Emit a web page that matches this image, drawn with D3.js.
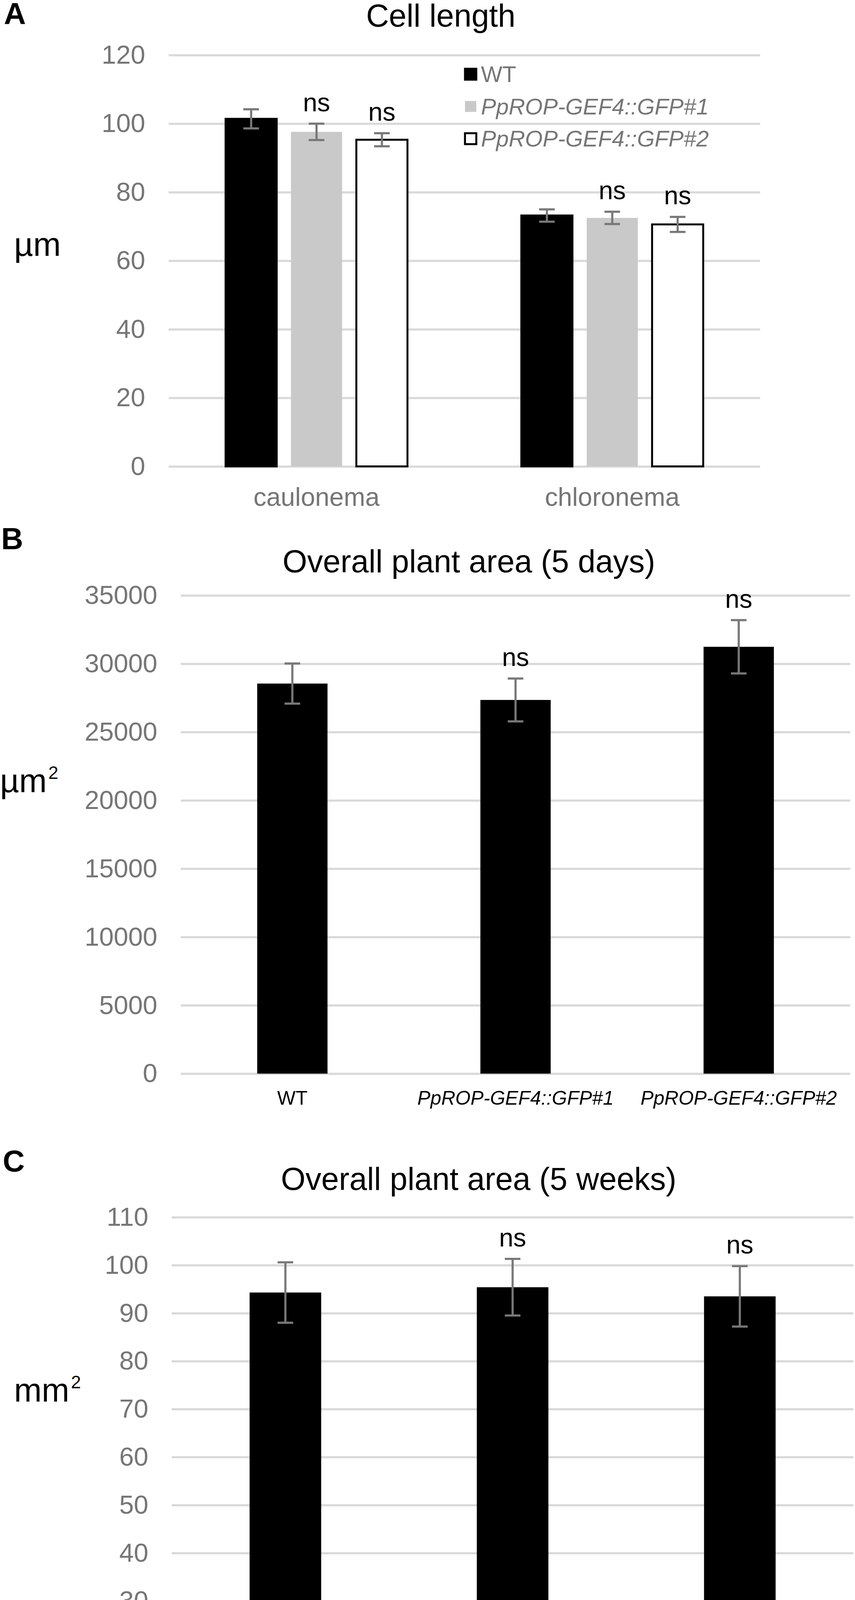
<!DOCTYPE html>
<html>
<head>
<meta charset="utf-8">
<script src="https://cdn.jsdelivr.net/npm/d3@7"></script>
<style>
body { margin: 0; background: #fff; }
svg { display: block; background: #fff; }
svg text { font-family: "Liberation Sans", Arial, Helvetica, sans-serif; }
.grid line { stroke: #d9d9d9; stroke-width: 5.5; }
.grid path, .axis path, .axis line { display: none; }
.y.axis text { fill: #767676; font-size: 67px; }
.x.axis.gray text { fill: #767676; font-size: 66px; }
.x.axis.black text { fill: #000; font-size: 50px; }
.bar.s0 { fill: #000; stroke: #000; stroke-width: 5; }
.bar.s1 { fill: #c9c9c9; stroke: none; }
.bar.s2 { fill: #fff; stroke: #000; stroke-width: 5; }
.bar.solid { fill: #000; }
.err { stroke: #787878; stroke-width: 5.5; fill: none; }
.ns { font-size: 66px; fill: #000; text-anchor: middle; }
.title { font-size: 81px; fill: #000; text-anchor: middle; }
.panel { font-size: 78px; font-weight: bold; fill: #000; }
.unit { font-size: 85px; fill: #000; }
.legend text { font-size: 58px; fill: #767676; }
</style>
</head>
<body>
<script>
// ---- data ----
var seriesNames = ["WT", "PpROP-GEF4::GFP#1", "PpROP-GEF4::GFP#2"];

// A: cell length (um), per cell type, per line
var cellTypes = ["caulonema", "chloronema"];
var cellLengthMean = [[101.4, 97.6, 95.3], [73.2, 72.5, 70.6]];
var cellLengthErr = [[2.8, 2.4, 1.9], [1.8, 1.8, 2.2]];
var cellLengthSig = [["", "ns", "ns"], ["", "ns", "ns"]];
var cellLengthTicks = [0, 20, 40, 60, 80, 100, 120];

// B: plant area after 5 days (um2)
var areaDaysMean = [28550, 27350, 31240];
var areaDaysErr = [1470, 1570, 1950];
var areaDaysSig = ["", "ns", "ns"];
var areaDaysTicks = [0, 5000, 10000, 15000, 20000, 25000, 30000, 35000];

// C: plant area after 5 weeks (mm2)
var areaWeeksMean = [94.3, 95.4, 93.5];
var areaWeeksErr = [6.3, 5.9, 6.3];
var areaWeeksSig = ["", "ns", "ns"];
var areaWeeksTicks = [0, 10, 20, 30, 40, 50, 60, 70, 80, 90, 100, 110];

var svg = d3.select("body").append("svg")
    .attr("width", 2190)
    .attr("height", 4553);

// gridlines + y tick labels, both from the same scale
function yAxisWithGrid(y, ticks, x0, x1) {
    svg.append("g")
        .attr("class", "grid")
        .attr("transform", "translate(" + x0 + ",0)")
        .call(d3.axisLeft(y).tickValues(ticks).tickSize(-(x1 - x0)).tickFormat(""));
    svg.append("g")
        .attr("class", "y axis")
        .attr("transform", "translate(" + x0 + ",0)")
        .call(d3.axisLeft(y).tickValues(ticks).tickSize(0).tickPadding(60).tickFormat(d3.format("d")));
}

// error bar with caps, plus the "ns" label above it
function errorBars(g, rows, y, cx) {
    g.selectAll(".err")
        .data(rows)
        .enter().append("path")
        .attr("class", "err")
        .attr("d", function(d) {
            var c = cx(d), top = y(d.value + d.err), bot = y(d.value - d.err);
            return "M" + c + "," + top + "V" + bot +
                "M" + (c - 20) + "," + top + "H" + (c + 20) +
                "M" + (c - 20) + "," + bot + "H" + (c + 20);
        });
    g.selectAll(".ns")
        .data(rows.filter(function(d) { return d.sig; }))
        .enter().append("text")
        .attr("class", "ns")
        .attr("x", cx)
        .attr("y", function(d) { return y(d.value + d.err) - 32; })
        .text(function(d) { return d.sig; });
}

function unitLabel(x, yBase, base, sup) {
    var t = svg.append("text").attr("class", "unit").attr("x", x).attr("y", yBase).text(base);
    if (sup) {
        t.append("tspan").attr("dx", 4).attr("dy", -34).style("font-size", "46px").text(sup);
    }
}

// ---------------- Panel A ----------------
var xA = d3.scaleBand()
    .domain(cellTypes)
    .range([432, 1947])
    .paddingInner(0.385)
    .paddingOuter(0.1925);
var xA1 = d3.scaleBand()
    .domain(seriesNames)
    .range([0, xA.bandwidth()])
    .paddingInner(0.218);
var yA = d3.scaleLinear().domain([0, 120]).range([1194, 141]);

svg.append("text").attr("class", "panel").attr("x", 10).attr("y", 62).text("A");
svg.append("text").attr("class", "title").attr("x", 1129).attr("y", 68).text("Cell length");
unitLabel(36, 655, "µm");

yAxisWithGrid(yA, cellLengthTicks, 432, 1947);

svg.append("g")
    .attr("class", "x axis gray")
    .attr("transform", "translate(0," + yA(0) + ")")
    .call(d3.axisBottom(xA).tickSize(0).tickPadding(54));

var groupsA = svg.selectAll(".groupA")
    .data(cellTypes)
    .enter().append("g")
    .attr("class", "groupA")
    .attr("transform", function(d) { return "translate(" + xA(d) + ",0)"; });

groupsA.each(function(cat, i) {
    var rows = seriesNames.map(function(name, j) {
        return { name: name, idx: j, value: cellLengthMean[i][j], err: cellLengthErr[i][j], sig: cellLengthSig[i][j] };
    });
    var g = d3.select(this);
    g.selectAll(".bar")
        .data(rows)
        .enter().append("rect")
        .attr("class", function(d) { return "bar s" + d.idx; })
        .attr("x", function(d) { return xA1(d.name); })
        .attr("width", xA1.bandwidth())
        .attr("y", function(d) { return yA(d.value); })
        .attr("height", function(d) { return yA(0) - yA(d.value); });
    errorBars(g, rows, yA, function(d) { return xA1(d.name) + xA1.bandwidth() / 2; });
});

// legend
var legend = svg.append("g")
    .attr("class", "legend")
    .attr("transform", "translate(1188,0)");
var legendRow = legend.selectAll(".row")
    .data(seriesNames)
    .enter().append("g")
    .attr("class", "row")
    .attr("transform", function(d, i) { return "translate(0," + (210 + i * 82.5) + ")"; });
legendRow.append("rect")
    .attr("class", function(d, i) { return "bar s" + i; })
    .attr("x", 3)
    .attr("y", -34)
    .attr("width", 29)
    .attr("height", 28);
legendRow.append("text")
    .attr("x", 44)
    .style("font-style", function(d) { return d === "WT" ? "normal" : "italic"; })
    .text(function(d) { return d; });

// ---------------- Panels B and C (one series each) ----------------
function singlePanel(o) {
    var x = d3.scaleBand()
        .domain(seriesNames)
        .range([o.x0, o.x1])
        .paddingInner(0.685)
        .paddingOuter(0.3425);
    var y = d3.scaleLinear().domain([0, o.max]).range([o.yBottom, o.yTop]);

    svg.append("text").attr("class", "panel").attr("x", o.panelX).attr("y", o.panelY).text(o.panel);
    svg.append("text").attr("class", "title").attr("x", o.titleX).attr("y", o.titleY).text(o.title);

    yAxisWithGrid(y, o.ticks, o.x0, o.x1);

    svg.append("g")
        .attr("class", "x axis black")
        .attr("transform", "translate(0," + y(0) + ")")
        .call(d3.axisBottom(x).tickSize(0).tickPadding(o.labelPad))
        .selectAll("text")
        .style("font-style", function(d) { return d === "WT" ? "normal" : "italic"; });

    var rows = seriesNames.map(function(name, j) {
        return { name: name, value: o.mean[j], err: o.err[j], sig: o.sig[j] };
    });
    var g = svg.append("g");
    g.selectAll(".bar")
        .data(rows)
        .enter().append("rect")
        .attr("class", "bar solid")
        .attr("x", function(d) { return x(d.name); })
        .attr("width", x.bandwidth())
        .attr("y", function(d) { return y(d.value); })
        .attr("height", function(d) { return y(0) - y(d.value); });
    errorBars(g, rows, y, function(d) { return x(d.name) + x.bandwidth() / 2; });
}

singlePanel({
    panel: "B", panelX: 3, panelY: 1406,
    title: "Overall plant area (5 days)", titleX: 1201, titleY: 1465,
    mean: areaDaysMean, err: areaDaysErr, sig: areaDaysSig, ticks: areaDaysTicks, max: 35000,
    x0: 463, x1: 2178, yBottom: 2748.5, yTop: 1524.3, labelPad: 44
});
unitLabel(0, 2028, "µm", "2");

singlePanel({
    panel: "C", panelX: 7, panelY: 2999,
    title: "Overall plant area (5 weeks)", titleX: 1226, titleY: 3046,
    mean: areaWeeksMean, err: areaWeeksErr, sig: areaWeeksSig, ticks: areaWeeksTicks, max: 110,
    x0: 440, x1: 2186, yBottom: 4467, yTop: 3116, labelPad: 37
});
unitLabel(36, 3588, "mm", "2");
</script>
</body>
</html>
